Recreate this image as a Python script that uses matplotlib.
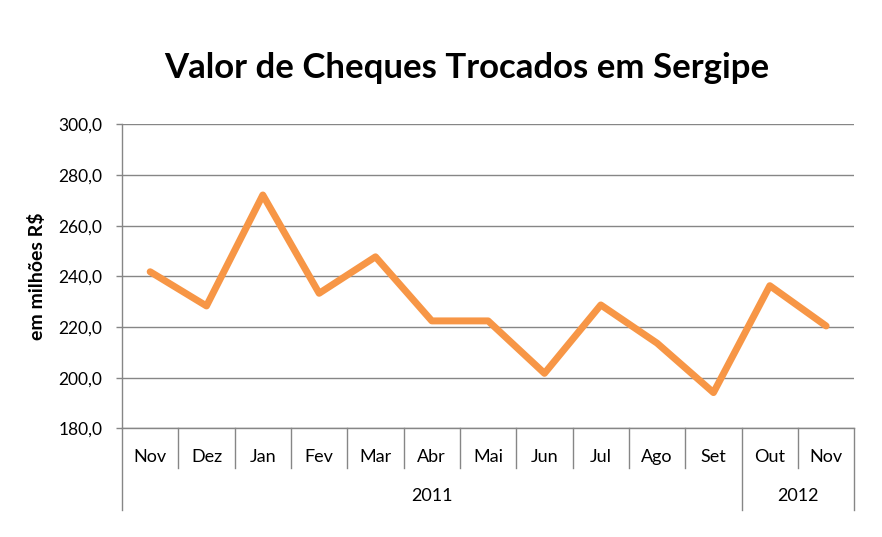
import matplotlib
matplotlib.use("Agg")
import matplotlib.pyplot as plt
import matplotlib.transforms as mtransforms
import numpy as np

months = ["Nov", "Dez", "Jan", "Fev", "Mar", "Abr", "Mai", "Jun", "Jul", "Ago", "Set", "Out", "Nov"]
values = [241.8, 228.3, 272.1, 233.3, 247.7, 222.4, 222.4, 201.7, 228.7, 213.6, 194.1, 236.3, 220.4]
years = ["2011", "2012"]
year_spans = [(0, 10), (11, 12)]
yticks = [180, 200, 220, 240, 260, 280, 300]

plt.rcParams['font.family'] = ['Lato', 'DejaVu Sans']

fig = plt.figure(figsize=(8.82, 5.37), dpi=100)
ax = fig.add_axes([0.1383, 0.2024, 0.9686 - 0.1383, 0.7685 - 0.2024])

x = np.arange(len(months))
ax.plot(x, values, color="#F79646", lw=5, solid_capstyle="round", solid_joinstyle="round", zorder=3)

ax.set_xlim(-0.5, len(months) - 0.5)
ax.set_ylim(180, 300)
ax.set_yticks(yticks)
ax.set_yticklabels([f"{v:.1f}".replace(".", ",") for v in yticks], fontsize=12.5)
ax.yaxis.grid(True, color="#868686", lw=1)
ax.set_axisbelow(True)
ax.set_xticks([])
for s in ["top", "right"]:
    ax.spines[s].set_visible(False)
for s in ["left", "bottom"]:
    ax.spines[s].set_color("#868686")
    ax.spines[s].set_linewidth(1)
ax.tick_params(axis="y", length=4, width=1, color="#868686", pad=10)

ax.set_ylabel("em milhões R$", fontsize=14, fontweight="bold")
ax.yaxis.set_label_coords(-0.104, 0.5)

trans = mtransforms.blended_transform_factory(ax.transData, ax.transAxes)
for i, m in enumerate(months):
    ax.text(i, -0.111, m, transform=trans, ha="center", va="baseline", fontsize=13)
# month separators
for i in range(1, len(months)):
    if i == 11:
        continue
    ax.plot([i - 0.5, i - 0.5], [0, -0.130], transform=trans, color="#868686", lw=1, clip_on=False)
# year separators
for b in [-0.5, 10.5, 12.5]:
    ax.plot([b, b], [0, -0.269], transform=trans, color="#868686", lw=1, clip_on=False)
for yname, (a, b) in zip(years, year_spans):
    ax.text((a + b) / 2, -0.239, yname, transform=trans, ha="center", va="baseline", fontsize=13)

fig.text(0.529, 1 - 78 / 537, "Valor de Cheques Trocados em Sergipe", ha="center", va="baseline",
         fontsize=25, fontweight="bold")

fig.savefig("out.png", dpi=100)
